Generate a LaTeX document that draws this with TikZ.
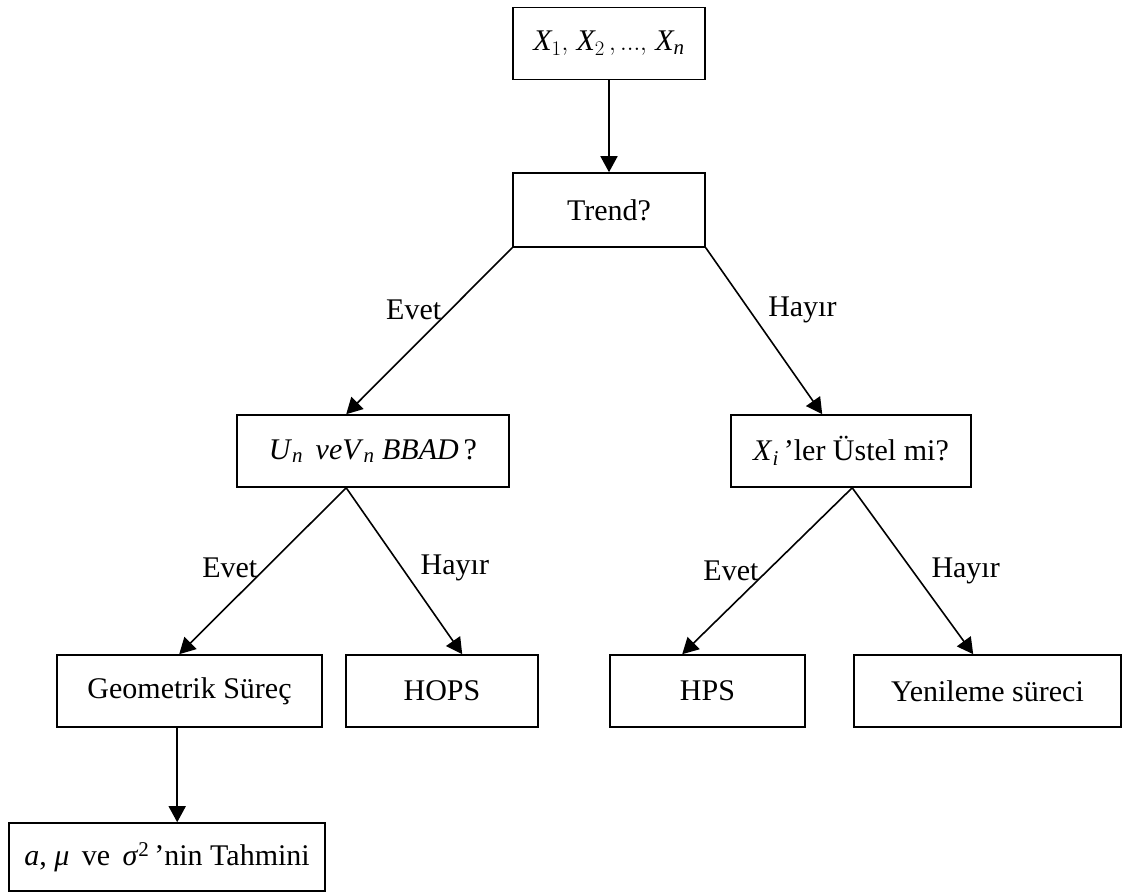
\documentclass[tikz,border=0pt]{standalone}
\usepackage{amsmath}
\usepackage{fontspec}
\setmainfont{Liberation Serif}
\usetikzlibrary{arrows.meta, positioning}

\begin{document}
\begin{tikzpicture}[x=1pt, y=-1pt, line width=1.6pt,
  box/.style={draw, rectangle, inner sep=0pt, minimum height=72pt},
  arr/.style={-{Triangle[length=16pt,width=17pt]}},
  lbl/.style={inner sep=8pt},
  lblr/.style={inner sep=8pt, xshift=10pt}]
\fontsize{30}{36}\selectfont
\useasboundingbox (0,0) rectangle (1124,893);
% boxes
\node [box, minimum width=192pt] (top) at (609,43.5) {$\mathit{X}_1,\, \mathit{X}_2\,,...,\, \mathit{X}_{\mathit{n}}$};
\node [box, minimum width=192pt, minimum height=74pt] (trend) at (609,210) {Trend?};
\node [box, minimum width=272pt] (umid) at (373,451) {\textit{U}$_{\mathit{n}}$\, \textit{veV}$_{\mathit{n}}$ \textit{BBAD}\,?};
\node [box, minimum width=240pt] (xmid) at (851,451) {\textit{X}$_{\mathit{i}}$\,’ler Üstel mi?};
\node [box, minimum width=265pt] (geo) at (189.5,691) {Geometrik Süreç};
\node [box, minimum width=192pt] (hops) at (442,691) {HOPS};
\node [box, minimum width=195pt] (hps) at (707.5,691) {HPS};
\node [box, minimum width=267pt] (yen) at (987.5,691) {Yenileme süreci};
\node [box, minimum width=316pt, minimum height=68pt] (est) at (167,857) {\textit{a}, \textit{μ}\, ve \,\textit{σ}\textsuperscript{2}\,’nin Tahmini};
% connectors
\draw [arr] (top.south) -- (trend.north);
\draw [arr] (trend.south west) -- node [lbl, pos=0.375, left] (l1) {Evet} ([xshift=110pt]umid.north west);
\draw [arr] (trend.south east) -- node [lblr, pos=0.375, right] (l2) {Hayır} ([xshift=92pt]xmid.north west);
\draw [arr] ([xshift=110pt]umid.south west) -- node [lbl, pos=0.48, left] (l3) {Evet} ([xshift=123pt]geo.north west);
\draw [arr] ([xshift=110pt]umid.south west) -- node [lblr, pos=0.48, right] (l4) {Hayır} ([xshift=117pt]hops.north west);
\draw [arr] ([xshift=122pt]xmid.south west) -- node [lbl, pos=0.5, left] (l5) {Evet} ([xshift=73pt]hps.north west);
\draw [arr] ([xshift=122pt]xmid.south west) -- node [lblr, pos=0.5, right] (l6) {Hayır} ([xshift=120pt]yen.north west);
\draw [arr] ([xshift=121pt]geo.south west) -- ([xshift=169pt]est.north west);
\end{tikzpicture}
\end{document}
